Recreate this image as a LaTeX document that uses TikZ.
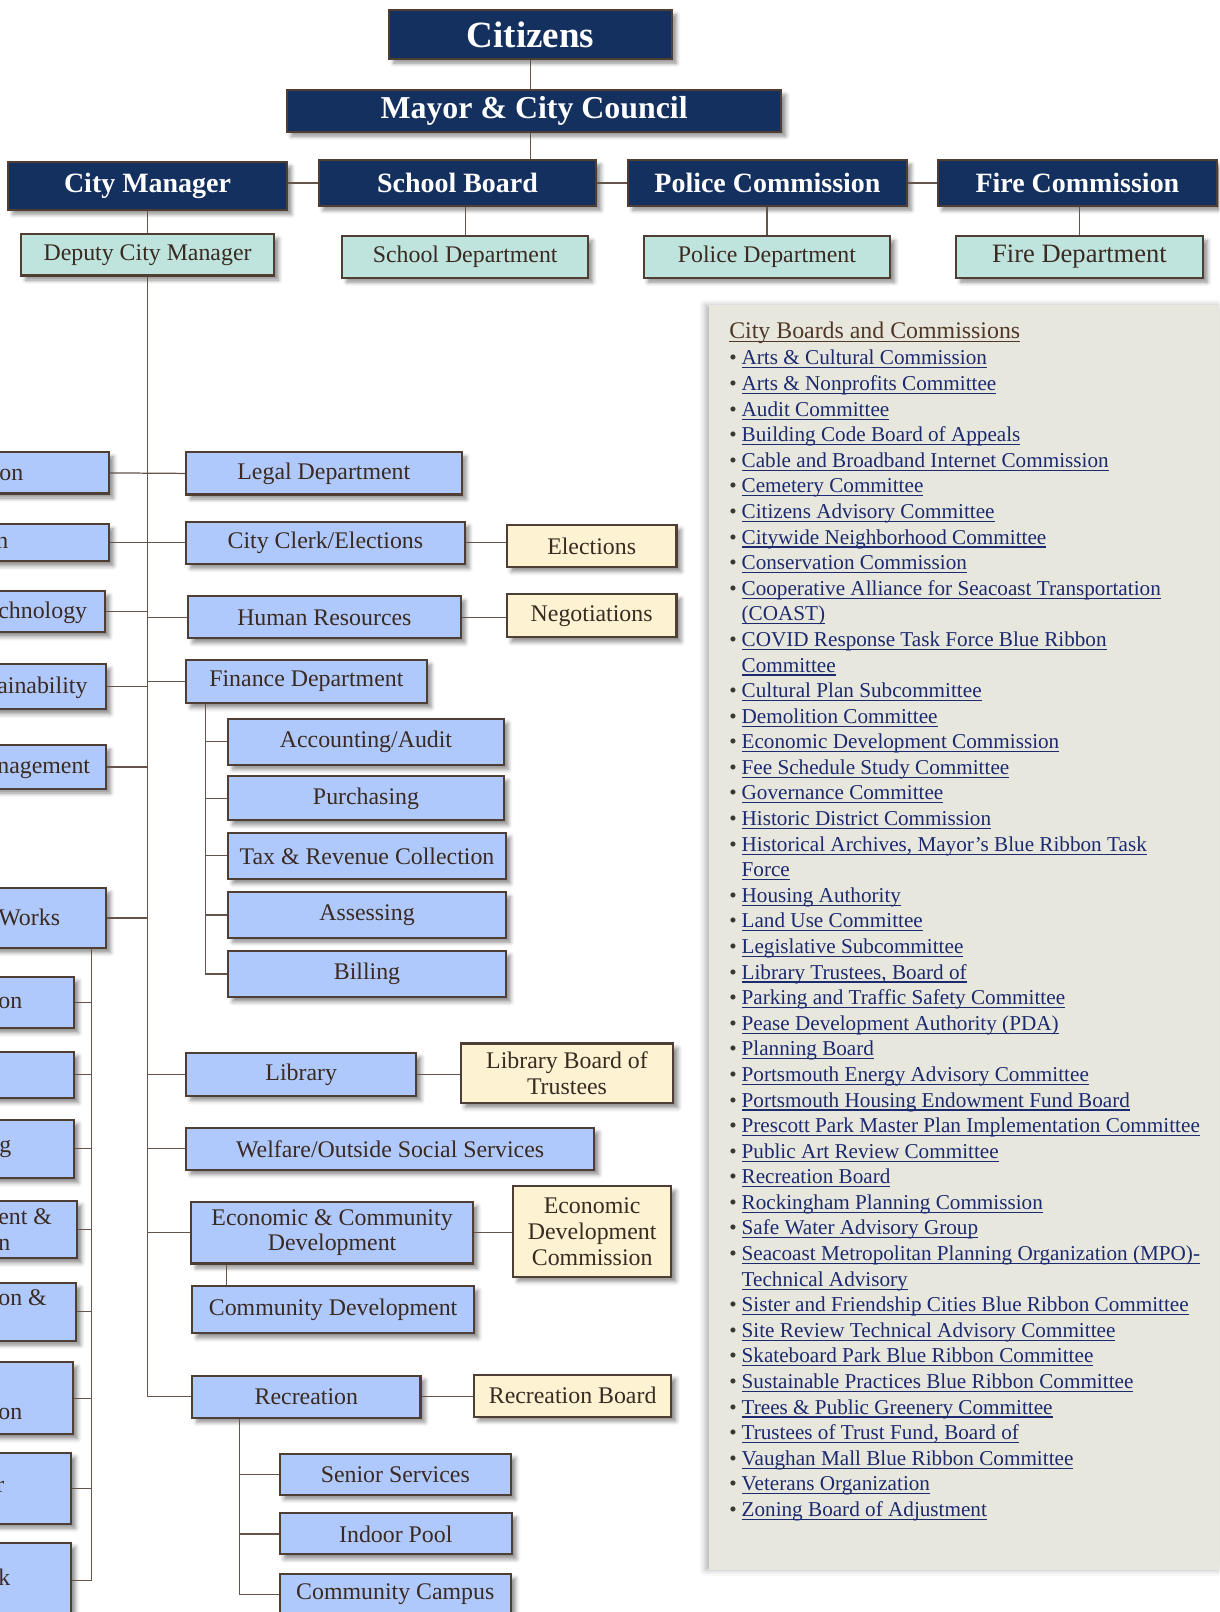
\documentclass[tikz,border=0pt]{standalone}
\usepackage{fontspec}
\setmainfont{Liberation Serif}
\usetikzlibrary{calc}
\usetikzlibrary{positioning}
\usetikzlibrary{shadows.blur}

\definecolor{navyfill}{RGB}{20,48,95}
\definecolor{tealfill}{RGB}{190,228,221}
\definecolor{bluefill}{RGB}{176,201,252}
\definecolor{creamfill}{RGB}{253,243,210}
\definecolor{edgebrown}{RGB}{78,62,52}
\definecolor{linebrown}{RGB}{100,84,74}
\definecolor{textbrown}{RGB}{58,42,34}
\definecolor{linknavy}{RGB}{28,42,112}
\definecolor{titlebrown}{RGB}{80,56,40}
\definecolor{bulletgray}{RGB}{60,55,50}
\definecolor{panelbg}{RGB}{232,231,221}

% underlined list entry
\newcommand{\lnk}[1]{\setbox0\hbox{#1}\rlap{\rule[-1.7pt]{\wd0}{0.55pt}}\box0}

\tikzset{
  orgbox/.style={draw=edgebrown, line width=1pt, inner sep=2pt, align=center,
    text=textbrown, font=\fontsize{11.6}{12.5}\selectfont,
    blur shadow={shadow xshift=2.2pt, shadow yshift=-2.2pt, shadow blur radius=2pt, shadow opacity=45}},
  headbox/.style={orgbox, fill=navyfill, text=white, font=\fontsize{13.6}{15}\selectfont\bfseries},
  deptbox/.style={orgbox, fill=tealfill},
  unitbox/.style={orgbox, fill=bluefill},
  boardbox/.style={orgbox, fill=creamfill},
  link/.style={draw=linebrown, line width=0.6pt},
  frag/.style={anchor=base west, inner sep=0pt, text=textbrown, font=\fontsize{11.6}{12.5}\selectfont},
  item/.style={anchor=base west, inner sep=0pt, text=linknavy, font=\fontsize{10.3}{12}\selectfont},
}

\begin{document}
\begin{tikzpicture}[x=0.5pt, y=-0.5pt]
  \path[use as bounding box] (0,0) rectangle (1186,1568);
  \clip (0,0) rectangle (1186,1568);

  % boards panel
  \path[fill=panelbg, blur shadow={shadow xshift=-2pt, shadow yshift=0pt, shadow blur radius=3pt, shadow opacity=30}]
    (690,297) rectangle (1200,1527);
  \node[anchor=base west, inner sep=0pt, text=titlebrown, font=\fontsize{11.6}{13}\selectfont] (boardstitle) at (709,329) {\lnk{City Boards and Commissions}};
  \foreach \k/\t [count=\i from 0] in {
      1/Arts \& Cultural Commission,
      1/Arts \& Nonprofits Committee,
      1/Audit Committee,
      1/Building Code Board of Appeals,
      1/Cable and Broadband Internet Commission,
      1/Cemetery Committee,
      1/Citizens Advisory Committee,
      1/Citywide Neighborhood Committee,
      1/Conservation Commission,
      1/Cooperative Alliance for Seacoast Transportation,
      0/(COAST),
      1/COVID Response Task Force Blue Ribbon,
      0/Committee,
      1/Cultural Plan Subcommittee,
      1/Demolition Committee,
      1/Economic Development Commission,
      1/Fee Schedule Study Committee,
      1/Governance Committee,
      1/Historic District Commission,
      1/{Historical Archives, Mayor’s Blue Ribbon Task},
      0/Force,
      1/Housing Authority,
      1/Land Use Committee,
      1/Legislative Subcommittee,
      1/{Library Trustees, Board of},
      1/Parking and Traffic Safety Committee,
      1/Pease Development Authority (PDA),
      1/Planning Board,
      1/Portsmouth Energy Advisory Committee,
      1/Portsmouth Housing Endowment Fund Board,
      1/Prescott Park Master Plan Implementation Committee,
      1/Public Art Review Committee,
      1/Recreation Board,
      1/Rockingham Planning Commission,
      1/Safe Water Advisory Group,
      1/Seacoast Metropolitan Planning Organization (MPO)-,
      0/Technical Advisory,
      1/Sister and Friendship Cities Blue Ribbon Committee,
      1/Site Review Technical Advisory Committee,
      1/Skateboard Park Blue Ribbon Committee,
      1/Sustainable Practices Blue Ribbon Committee,
      1/Trees \& Public Greenery Committee,
      1/{Trustees of Trust Fund, Board of},
      1/Vaughan Mall Blue Ribbon Committee,
      1/Veterans Organization,
      1/Zoning Board of Adjustment}
  {
    \node[item] (item\i) at (721,{355+24.89*\i}) {\lnk{\t}};
    \ifnum\k=1 \node[item, text=bulletgray] (bullet\i) at (709,{355+24.89*\i}) {\textbullet}; \fi
  }

  % top of the chart
  \node[headbox, minimum width=137.5pt, minimum height=23.5pt, font=\fontsize{18}{20}\selectfont\bfseries] (citizens) at (516,33.5) {Citizens};
  \node[headbox, minimum width=240.5pt, minimum height=20pt, font=\fontsize{15.5}{17}\selectfont\bfseries] (mayor) at (519.5,108) {Mayor \& City Council};
  \node[headbox, minimum width=135.5pt, minimum height=23pt] (manager) at (143.5,181) {City Manager};
  \node[headbox, minimum width=135pt, minimum height=22pt] (schoolboard) at (445,178) {School Board};
  \node[headbox, minimum width=135.5pt, minimum height=22pt] (policecom) at (746.5,178) {Police Commission};
  \node[headbox, minimum width=136pt, minimum height=22pt] (firecom) at (1048,178) {Fire Commission};

  \node[deptbox, minimum width=123pt, minimum height=20pt] (deputy) at (143.5,248) {Deputy City Manager};
  \node[deptbox, minimum width=119.5pt, minimum height=20pt] (schooldept) at (452.5,250) {School Department};
  \node[deptbox, minimum width=120pt, minimum height=20pt] (policedept) at (746,250) {Police Department};
  \node[deptbox, minimum width=120pt, minimum height=20pt, font=\fontsize{12.9}{14}\selectfont] (firedept) at (1050,250) {Fire Department};

  % departments under the deputy
  \node[unitbox, minimum width=134pt, minimum height=20.5pt] (legal) at (315,460.5) {Legal Department};
  \node[unitbox, minimum width=135.5pt, minimum height=20.5pt] (clerk) at (316.5,528) {City Clerk/Elections};
  \node[boardbox, minimum width=82.5pt, minimum height=20.5pt] (elections) at (575.5,531) {Elections};
  \node[unitbox, minimum width=132.5pt, minimum height=20.5pt] (hr) at (315.5,600.5) {Human Resources};
  \node[boardbox, minimum width=82.5pt, minimum height=21pt] (negotiations) at (575.5,599) {Negotiations};
  \node[unitbox, minimum width=117pt, minimum height=21pt] (finance) at (298,663) {Finance Department};
  \node[unitbox, minimum width=134pt, minimum height=22.5pt] (accounting) at (356,721.5) {Accounting/Audit};
  \node[unitbox, minimum width=134pt, minimum height=21.5pt] (purchasing) at (356,776.5) {Purchasing};
  \node[unitbox, minimum width=135pt, minimum height=22.5pt] (tax) at (357,832.5) {Tax \& Revenue Collection};
  \node[unitbox, minimum width=135pt, minimum height=22pt] (assessing) at (357,890) {Assessing};
  \node[unitbox, minimum width=135pt, minimum height=22.5pt] (billing) at (357,947.5) {Billing};
  \node[unitbox, minimum width=112pt, minimum height=21pt] (library) at (293,1045) {Library};
  \node[boardbox, minimum width=103.5pt, minimum height=29pt] (libboard) at (551.5,1044) {Library Board of\\Trustees};
  \node[unitbox, minimum width=198.5pt, minimum height=20.5pt] (welfare) at (379.5,1117.5) {Welfare/Outside Social Services};
  \node[unitbox, minimum width=137pt, minimum height=30pt] (econ) at (323,1199) {Economic \& Community\\Development};
  \node[boardbox, minimum width=77pt, minimum height=44pt] (econboard) at (576,1198) {Economic\\Development\\Commission};
  \node[unitbox, minimum width=137pt, minimum height=23pt] (commdev) at (324,1274) {Community Development};
  \node[unitbox, minimum width=111pt, minimum height=20.5pt] (recreation) at (298,1358.5) {Recreation};
  \node[boardbox, minimum width=96pt, minimum height=20.5pt] (recboard) at (557,1357.5) {Recreation Board};
  \node[unitbox, minimum width=112.5pt, minimum height=20pt] (senior) at (384.5,1434) {Senior Services};
  \node[unitbox, minimum width=113pt, minimum height=20pt] (pool) at (385,1492) {Indoor Pool};
  \node[unitbox, minimum width=112.5pt, minimum height=20pt] (campus) at (384.5,1551) {Community Campus};

  % boxes cut by the left edge
  \node[unitbox, anchor=east, minimum width=120pt, minimum height=20pt] (leftA) at (107,460) {};
  \node[unitbox, anchor=east, minimum width=120pt, minimum height=18pt] (leftB) at (107,528) {};
  \node[unitbox, anchor=east, minimum width=120pt, minimum height=20pt] (leftC) at (103,595) {};
  \node[unitbox, anchor=east, minimum width=120pt, minimum height=22pt] (leftD) at (104,668) {};
  \node[unitbox, anchor=east, minimum width=120pt, minimum height=21pt] (leftE) at (104,746) {};
  \node[unitbox, anchor=east, minimum width=120pt, minimum height=29pt] (works) at (104,893) {};
  \node[unitbox, anchor=east, minimum width=100pt, minimum height=25pt] (subA) at (73,975) {};
  \node[unitbox, anchor=east, minimum width=100pt, minimum height=22.5pt] (subB) at (73,1045.5) {};
  \node[unitbox, anchor=east, minimum width=100pt, minimum height=28.5pt] (subC) at (73,1117.5) {};
  \node[unitbox, anchor=east, minimum width=100pt, minimum height=28pt] (subD) at (76,1196) {};
  \node[unitbox, anchor=east, minimum width=100pt, minimum height=28pt] (subE) at (75,1276) {};
  \node[unitbox, anchor=east, minimum width=100pt, minimum height=35pt] (subF) at (72,1360) {};
  \node[unitbox, anchor=east, minimum width=100pt, minimum height=34.5pt] (subG) at (70,1447.5) {};
  \node[unitbox, anchor=east, minimum width=100pt, minimum height=37pt] (subH) at (70,1537.5) {};

  \node[frag] (fragA) at (-1,467) {on};
  \node[frag] (fragB) at (-4,534) {n};
  \node[frag] (fragC) at (-2,602) {chnology};
  \node[frag] (fragD) at (-3,675) {ainability};
  \node[frag] (fragE) at (-3,752) {nagement};
  \node[frag] (fragF) at (-2,900) {Works};
  \node[frag] (fragG) at (-2,981) {on};
  \node[frag] (fragH) at (-1,1121) {g};
  \node[frag] (fragI) at (-2,1191) {ent \&};
  \node[frag] (fragJ) at (-2,1216) {n};
  \node[frag] (fragK) at (-2,1270) {on \&};
  \node[frag] (fragL) at (-2,1381) {on};
  \node[frag] (fragM) at (-4,1452) {r};
  \node[frag] (fragN) at (-2,1542) {k};

  \coordinate (worksdrop) at ([xshift=-7.5pt]works.south east);
  \coordinate (findrop) at ([xshift=10pt]finance.south west);
  \coordinate (econdrop) at ([xshift=17.5pt]econ.south west);
  \coordinate (recdrop) at ([xshift=23.5pt]recreation.south west);

  % connectors
  \draw[link] (citizens.south) -- (citizens.south |- mayor.north);
  \draw[link] (citizens.south |- mayor.south) -- (citizens.south |- schoolboard.north);
  \draw[link] (manager.east |- schoolboard.west) -- (schoolboard.west);
  \draw[link] (schoolboard.east) -- (policecom.west);
  \draw[link] (policecom.east) -- (firecom.west);
  \draw[link] (manager.south) -- (manager.south |- deputy.north);
  \draw[link] (schooldept.north) -- (schooldept.north |- schoolboard.south);
  \draw[link] (policedept.north) -- (policedept.north |- policecom.south);
  \draw[link] (firedept.north) -- (firedept.north |- firecom.south);

  \draw[link] (deputy.south) |- (recreation.west);
  \draw[link] (leftA.east) -- (legal.west);
  \draw[link] (leftB.east) -- (clerk.west);
  \foreach \s in {leftC, leftD, leftE, works}
    \draw[link] (\s.east) -- (\s.east -| deputy.south);
  \foreach \s in {hr, finance, library, welfare, econ}
    \draw[link] (\s.west) -- (\s.west -| deputy.south);

  \draw[link] (worksdrop) |- (subH.east);
  \foreach \s in {subA, subB, subC, subD, subE, subF, subG}
    \draw[link] (\s.east) -- (\s.east -| worksdrop);

  \draw[link] (findrop) |- (billing.west);
  \foreach \s in {accounting, purchasing, tax, assessing}
    \draw[link] (\s.west) -- (\s.west -| findrop);

  \draw[link] (clerk.east) -- (clerk.east -| elections.west);
  \draw[link] (hr.east) -- (hr.east -| negotiations.west);
  \draw[link] (library.east) -- (library.east -| libboard.west);
  \draw[link] (econ.east) -- (econ.east -| econboard.west);
  \draw[link] (recreation.east) -- (recreation.east -| recboard.west);
  \draw[link] (econdrop) -- (econdrop |- commdev.north);

  \draw[link] (recdrop) |- (campus.west);
  \foreach \s in {senior, pool}
    \draw[link] (\s.west) -- (\s.west -| recdrop);
\end{tikzpicture}
\end{document}
